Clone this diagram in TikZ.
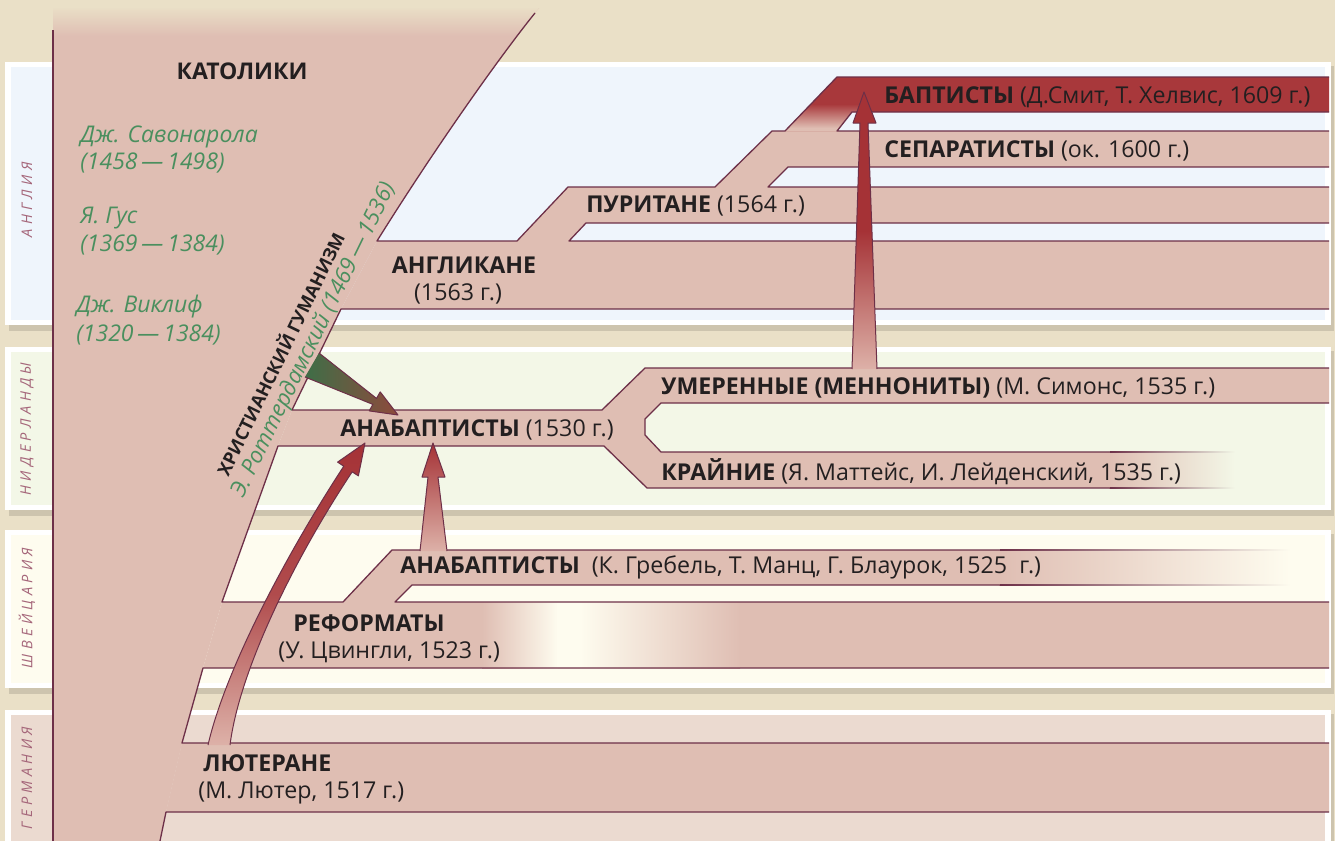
\documentclass[tikz,border=0pt]{standalone}
\usepackage{fontspec}
\setmainfont{Open Sans}
\newfontfamily\countryfont[LetterSpace=30]{Open Sans}
\usetikzlibrary{calc}

\definecolor{paper}{HTML}{EAE0C7}
\definecolor{trunkpink}{HTML}{DFBEB3}
\definecolor{edgeline}{HTML}{6D3048}
\definecolor{engbg}{HTML}{EFF5FC}
\definecolor{nlbg}{HTML}{F3F7E7}
\definecolor{chbg}{HTML}{FEFCEF}
\definecolor{debg}{HTML}{EBDAD0}
\definecolor{baptred}{HTML}{A8383B}
\definecolor{arrowred}{HTML}{A53236}
\definecolor{arrowpale}{HTML}{DDB1A8}
\definecolor{humgreen}{HTML}{3E6E47}
\definecolor{arrowbrown}{HTML}{8E4A3C}
\definecolor{namegreen}{HTML}{4A8F5E}
\definecolor{countrytxt}{HTML}{A5667A}
\definecolor{ink}{HTML}{231F20}

\begin{document}
\begin{tikzpicture}[x=0.5pt, y=-0.5pt, line join=round,
    edge/.style={draw=edgeline, line width=0.65pt},
    branch label/.style={anchor=base west, inner sep=0pt, text=ink, font=\fontsize{11.6}{13}\selectfont},
    name label/.style={anchor=base west, inner sep=0pt, text=namegreen, font=\itshape\fontsize{11.5}{13}\selectfont},
    country/.style={rotate=90, inner sep=0pt, text=countrytxt, font=\countryfont\itshape\fontsize{7.3}{8}\selectfont}]

    \useasboundingbox (0,0) rectangle (1335,841);
    \clip (0,0) rectangle (1335,841);
    \fill[paper] (0,0) rectangle (1335,841);

    % country bands
    \foreach \ya/\yb/\bg in {62/325/engbg, 347/510/nlbg, 530/688/chbg, 710/850/debg}{
        \fill[black, opacity=.12] (9,\ya+4) rectangle (1334,\yb+6);
        \fill[white] (5,\ya) rectangle (1331,\yb);
        \fill[\bg] (11,\ya+5) rectangle (1325,\yb-5);
    }

    % catholic trunk
    \fill[trunkpink] (53,8) -- (539,8) -- (535,13) .. controls (505,50) and (440,140) .. (377,241)
        -- (341,309) -- (292,410) -- (278,446) -- (222,602) -- (203,668) -- (182,743)
        -- (166,812) -- (160,841) -- (53,841) -- cycle;
    \begin{scope}
        \clip (53,8) -- (539,8) -- (535,13) .. controls (505,50) and (440,140) .. (377,241) -- (53,241) -- cycle;
        \shade[top color=paper, bottom color=trunkpink] (53,6) rectangle (545,36);
    \end{scope}

    % England
    \fill[trunkpink] (377,241) -- (1329,241) -- (1329,309) -- (341,309) -- cycle;
    \fill[trunkpink] (517,241) -- (568,187) -- (1329,187) -- (1329,223) -- (586,223) -- (569,241) -- cycle;
    \fill[trunkpink] (715,187) -- (772,131) -- (1329,131) -- (1329,167) -- (788,167) -- (768,187) -- cycle;
    \fill[baptred] (785,131) -- (837,77) -- (1329,77) -- (1329,112) -- (852,112) -- (837,131) -- cycle;
    \begin{scope}
        \clip (785,131) -- (837,77) -- (1329,77) -- (1329,112) -- (852,112) -- (837,131) -- cycle;
        \shade[top color=baptred, bottom color=trunkpink] (780,104) rectangle (860,128);
        \fill[trunkpink] (780,127.5) rectangle (860,132);
    \end{scope}

    % Netherlands
    \fill[trunkpink] (292,410) -- (602,410) -- (645,368) -- (1329,368) -- (1329,403) -- (661,403)
        -- (645,419) -- (645,435) -- (661,452) -- (1110,452) -- (1110,488) -- (647,488) -- (604,446) -- (278,446) -- cycle;
    \shade[left color=trunkpink, right color=nlbg] (1109,452) rectangle (1235,488);

    % Switzerland
    \fill[trunkpink] (343,602) -- (392,550) -- (1000,550) -- (1000,585) -- (412,585) -- (395,602) -- cycle;
    \shade[left color=trunkpink, right color=chbg] (999,550) rectangle (1290,585);
    \fill[trunkpink] (222,602) -- (1329,602) -- (1329,668) -- (203,668) -- cycle;
    \shade[left color=trunkpink, right color=chbg] (482,602) rectangle (558,668);
    \fill[chbg] (557,602) rectangle (581,668);
    \shade[left color=chbg, right color=trunkpink] (580,602) rectangle (740,668);

    % Germany
    \fill[trunkpink] (182,743) -- (1329,743) -- (1329,812) -- (166,812) -- cycle;

    % outlines
    \draw[edge] (53,30) -- (53,841);
    \draw[edge] (535,13) .. controls (505,50) and (440,140) .. (377,241) -- (517,241) -- (568,187) -- (715,187)
        -- (772,131) -- (785,131) -- (837,77) -- (1329,77);
    \draw[edge] (1329,112) -- (852,112) -- (837,131) -- (1329,131);
    \draw[edge] (1329,167) -- (788,167) -- (768,187) -- (1329,187);
    \draw[edge] (1329,223) -- (586,223) -- (569,241) -- (1329,241);
    \draw[edge] (1329,309) -- (341,309) -- (292,410) -- (602,410) -- (645,368) -- (1329,368);
    \draw[edge] (1329,403) -- (661,403) -- (645,419) -- (645,435) -- (661,452) -- (1110,452);
    \draw[edge] (1110,488) -- (647,488) -- (604,446) -- (278,446) -- (222,602) -- (343,602) -- (392,550) -- (1000,550);
    \draw[edge] (1000,585) -- (412,585) -- (395,602) -- (1329,602);
    \draw[edge] (1329,668) -- (203,668) -- (182,743) -- (1329,743);
    \draw[edge] (1329,812) -- (166,812) -- (160,841);
    \foreach \y in {452,488}
        \shade[left color=edgeline, right color=nlbg] (1110,\y-0.6) rectangle (1235,\y+0.6);
    \foreach \y in {550,585}
        \shade[left color=edgeline, right color=chbg] (1000,\y-0.6) rectangle (1290,\y+0.6);

    % influence arrows
    \shade[left color=humgreen, right color=arrowbrown] (319,353) -- (376.5,398.4) -- (380.2,391.9) -- (398,415)
        -- (369.2,410.9) -- (372.9,404.4) -- (305,377) -- cycle;
    \draw[edge, line width=0.5pt] (319,353) -- (376.5,398.4) -- (380.2,391.9) -- (398,415)
        -- (369.2,410.9) -- (372.9,404.4) -- (305,377);

    \shade[top color=arrowred, bottom color=arrowpale, middle color=arrowred!80!arrowpale]
        (208,745) .. controls (226,667) and (289,550) .. (343.8,466.2) -- (337.6,462.1) -- (365,443)
        -- (358.4,475.9) -- (352.2,471.8) .. controls (297,555) and (240,667) .. (230,745) -- cycle;
    \draw[edge, line width=0.5pt] (208,745) .. controls (226,667) and (289,550) .. (343.8,466.2) -- (337.6,462.1) -- (365,443)
        -- (358.4,475.9) -- (352.2,471.8) .. controls (297,555) and (240,667) .. (230,745);

    \shade[top color=arrowred, bottom color=arrowpale]
        (420,551) -- (428,477) -- (422,477) -- (433,443) -- (445,477) -- (438,477) -- (447,551) -- cycle;
    \draw[edge, line width=0.5pt] (420,551) -- (428,477) -- (422,477) -- (433,443) -- (445,477) -- (438,477) -- (447,551);

    \shade[top color=arrowred, bottom color=arrowpale, middle color=arrowred]
        (852,369) -- (860,123) -- (853,123) -- (864,92) -- (876,123) -- (868,123) -- (877,369) -- cycle;
    \draw[edge, line width=0.5pt] (852,369) -- (860,123) -- (853,123) -- (864,92) -- (876,123) -- (868,123) -- (877,369);

    % countries
    \node[country] (england) at (27,200) {АНГЛИЯ};
    \node[country] (netherlands) at (27,429) {НИДЕРЛАНДЫ};
    \node[country] (switzerland) at (27,608) {ШВЕЙЦАРИЯ};
    \node[country] (germany) at (27,778) {ГЕРМАНИЯ};

    % catholic side
    \node[anchor=base, inner sep=0pt, text=ink, font=\bfseries\fontsize{11.5}{13}\selectfont] (catholics) at (242,79) {КАТОЛИКИ};
    \node[name label] (savonarola) at (80,142) {Дж. Савонарола};
    \node[name label] (savonarola-y) at (80,169) {(1458\,—\,1498)};
    \node[name label] (hus) at (80,223) {Я. Гус};
    \node[name label] (hus-y) at (80,251) {(1369\,—\,1384)};
    \node[name label] (wycliffe) at (76,312) {Дж. Виклиф};
    \node[name label] (wycliffe-y) at (76,341) {(1320\,—\,1384)};
    \node[anchor=base, inner sep=0pt, rotate=64, text=ink, font=\bfseries\fontsize{9}{10}\selectfont] (humanism) at (287,357) {ХРИСТИАНСКИЙ ГУМАНИЗМ};
    \node[anchor=base, inner sep=0pt, rotate=64, text=namegreen, font=\itshape\fontsize{11.2}{13}\selectfont] (erasmus) at (319,343) {Э. Роттердамский (1469\,—\,1536)};

    % branches
    \node[anchor=base, inner sep=0pt, text=ink, font=\bfseries\fontsize{11.6}{13}\selectfont] (anglicans) at (464,273) {АНГЛИКАНЕ};
    \node[anchor=base, inner sep=0pt, text=ink, font=\fontsize{11.6}{13}\selectfont] (anglicans-y) at (458,300) {(1563 г.)};
    \node[branch label] (puritans) at (586,212) {\textbf{ПУРИТАНЕ} (1564 г.)};
    \node[branch label] (separatists) at (884,157) {\textbf{СЕПАРАТИСТЫ} (ок. 1600 г.)};
    \node[branch label] (baptists) at (884,103) {\textbf{БАПТИСТЫ} (Д.Смит, Т. Хелвис, 1609 г.)};
    \node[branch label] (anabaptists-nl) at (340,436) {\textbf{АНАБАПТИСТЫ} (1530 г.)};
    \node[branch label] (mennonites) at (661,394) {\textbf{УМЕРЕННЫЕ (МЕННОНИТЫ)} (М. Симонс, 1535 г.)};
    \node[branch label] (radicals) at (661,480) {\textbf{КРАЙНИЕ} (Я. Маттейс, И. Лейденский, 1535 г.)};
    \node[branch label] (anabaptists-ch) at (400,573) {\textbf{АНАБАПТИСТЫ}\ \ (К. Гребель, Т. Манц, Г. Блаурок, 1525\ \ г.)};
    \node[branch label] (reformed) at (293,631) {\textbf{РЕФОРМАТЫ}};
    \node[branch label] (reformed-y) at (278,658) {(У. Цвингли, 1523 г.)};
    \node[branch label] (lutherans) at (203,771) {\textbf{ЛЮТЕРАНЕ}};
    \node[branch label] (lutherans-y) at (198,798) {(М. Лютер, 1517 г.)};
\end{tikzpicture}
\end{document}
